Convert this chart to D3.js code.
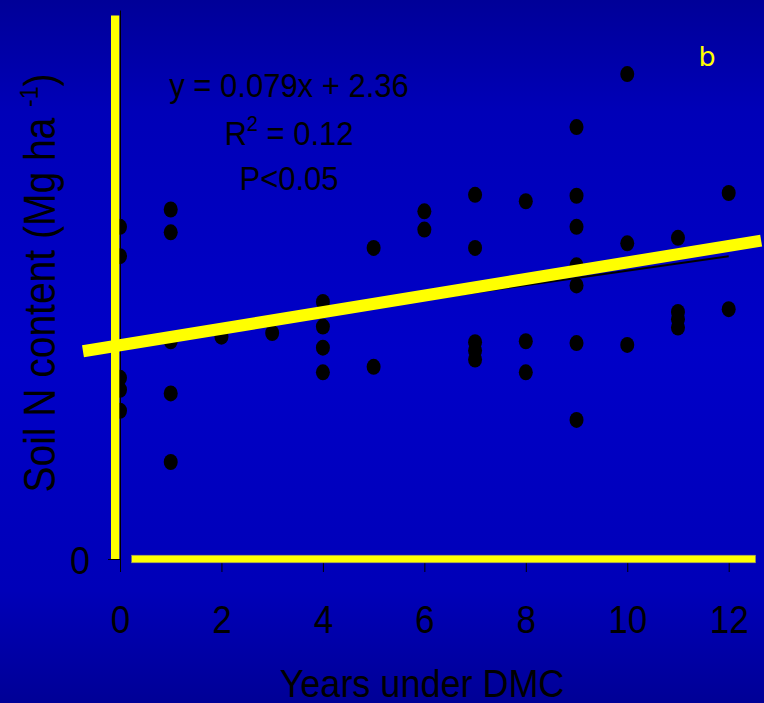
<!DOCTYPE html>
<html>
<head>
<meta charset="utf-8">
<script src="https://cdn.jsdelivr.net/npm/d3@7"></script>
<style>
	html, body { margin: 0; padding: 0; background: #0000b8; }
	svg { display: block; }
	text { font-family: "Liberation Sans", Arial, sans-serif; }
</style>
</head>
<body>
<div id="wrapper"></div>
<script>
// years under DMC and soil N values (Mg/ha)
const years = [
	0, 0, 0, 0, 0,
	1, 1, 1, 1, 1,
	2, 3,
	4, 4, 4, 4,
	5, 5,
	6, 6,
	7, 7, 7, 7, 7,
	8, 8, 8,
	9, 9, 9, 9, 9, 9, 9,
	10, 10, 10,
	11, 11, 11, 11,
	12, 12,
];
const soilN = [
	3.63, 3.31, 1.98, 1.85, 1.62,
	3.82, 3.57, 2.38, 1.81, 1.06,
	2.43, 2.47,
	2.81, 2.54, 2.31, 2.04,
	3.40, 2.10,
	3.80, 3.60,
	3.98, 3.40, 2.37, 2.28, 2.18,
	3.91, 2.38, 2.04,
	4.72, 3.97, 3.63, 3.21, 2.99, 2.36, 1.52,
	5.30, 3.45, 2.34,
	3.51, 2.70, 2.62, 2.53,
	4.00, 2.73,
];
const xTicks = [0, 2, 4, 6, 8, 10, 12];
const yTicks = [0];

// fitted trend y = 0.079x + 2.36
const slope = 0.079;
const intercept = 2.36;
const fitLabels = ["y = 0.079x + 2.36", "R", "P<0.05"];

// the yellow highlight line drawn over the trend (end points in data units)
const highlightX = [-0.73, 12.64];
const highlightY = [2.27, 3.48];

const width = 764;
const height = 703;

const svg = d3
	.select("#wrapper")
	.append("svg")
	.attr("width", width)
	.attr("height", height);

// background gradient
const defs = svg.append("defs");
const grad = defs
	.append("linearGradient")
	.attr("id", "bg")
	.attr("x1", 0)
	.attr("y1", 0)
	.attr("x2", 0)
	.attr("y2", 1);
[
	[0, "#000098"],
	[0.16, "#0000b8"],
	[0.5, "#0000c8"],
	[0.84, "#0000b8"],
	[1, "#000096"],
].forEach(([o, c]) => grad.append("stop").attr("offset", o).attr("stop-color", c));
svg.append("rect").attr("width", width).attr("height", height).attr("fill", "url(#bg)");

const xScale = d3.scaleLinear().domain([0, 12]).range([120, 728.7]);
const yScale = d3.scaleLinear().domain([0, 6]).range([559, 10]);

// axes (thin black, mostly hidden under the yellow bars)
const yAxis = svg
	.append("g")
	.attr("transform", `translate(${xScale(0)},0)`)
	.call(
		d3
			.axisLeft(yScale)
			.tickValues(yTicks)
			.tickFormat(d3.format("d"))
			.tickSize(12)
			.tickSizeOuter(0)
	);
yAxis.select(".domain").attr("stroke", "#000").attr("stroke-width", 1);
yAxis.selectAll(".tick line").attr("stroke", "#000");
yAxis
	.selectAll(".tick text")
	.attr("fill", "#000")
	.style("font-size", "36px")
	.attr("x", -30)
	.attr("dy", 0)
	.attr("y", 13.6)
	.attr("transform", "scale(1,1.1)");

const xAxis = svg
	.append("g")
	.attr("transform", `translate(0,${yScale(0)})`)
	.call(
		d3
			.axisBottom(xScale)
			.tickValues(xTicks)
			.tickFormat(d3.format("d"))
			.tickSize(13)
			.tickSizeOuter(0)
	);
xAxis.select(".domain").remove();
xAxis.selectAll(".tick line").attr("stroke", "#000");
xAxis
	.selectAll(".tick text")
	.attr("fill", "#000")
	.style("font-size", "35px")
	.attr("dy", 0)
	.attr("y", 67)
	.attr("transform", "scale(1,1.1)");

// points
svg
	.append("g")
	.selectAll("ellipse")
	.data(years.map((d, i) => ({ x: d, y: soilN[i] })))
	.join("ellipse")
	.attr("cx", (d) => xScale(d.x))
	.attr("cy", (d) => yScale(d.y))
	.attr("rx", 7)
	.attr("ry", 8)
	.attr("fill", "#000");

// black trend line
svg
	.append("line")
	.attr("x1", xScale(0))
	.attr("y1", yScale(intercept))
	.attr("x2", xScale(12))
	.attr("y2", yScale(slope * 12 + intercept))
	.attr("stroke", "#000")
	.attr("stroke-width", 2);

// yellow highlight line
svg
	.append("line")
	.attr("x1", xScale(highlightX[0]))
	.attr("y1", yScale(highlightY[0]))
	.attr("x2", xScale(highlightX[1]))
	.attr("y2", yScale(highlightY[1]))
	.attr("stroke", "#ffff00")
	.attr("stroke-width", 12);

// yellow axis bars
svg
	.append("rect")
	.attr("x", xScale(0) - 9)
	.attr("width", 8.3)
	.attr("y", yScale(5.94))
	.attr("height", yScale(0) - yScale(5.94))
	.attr("fill", "#ffff00");
svg
	.append("rect")
	.attr("x", xScale(0.23))
	.attr("width", xScale(12.53) - xScale(0.23))
	.attr("y", yScale(0) - 3.8)
	.attr("height", 7.6)
	.attr("fill", "#ffff00")
	.attr("stroke", "#8a8a70")
	.attr("stroke-width", 0.6);

// fit annotation
const note = svg.append("g").attr("fill", "#000").style("font-size", "31px");
note
	.append("text")
	.attr("text-anchor", "middle")
	.attr("transform", "translate(289,97) scale(1,1.08)")
	.text(fitLabels[0]);
const r2 = note
	.append("text")
	.attr("text-anchor", "middle")
	.attr("transform", "translate(289,145) scale(1,1.08)");
r2.append("tspan").text(fitLabels[1]);
r2.append("tspan").attr("dy", -13).style("font-size", "20px").text("2");
r2.append("tspan").attr("dy", 13).text(" = 0.12");
note
	.append("text")
	.attr("text-anchor", "middle")
	.attr("transform", "translate(289,190) scale(1,1.08)")
	.text(fitLabels[2]);

// panel letter
svg
	.append("text")
	.attr("x", 707)
	.attr("y", 66)
	.attr("text-anchor", "middle")
	.attr("fill", "#ffff00")
	.style("font-family", "'DejaVu Sans', sans-serif")
	.style("font-size", "27px")
	.text("b");

// axis titles
svg
	.append("text")
	.attr("text-anchor", "middle")
	.attr("fill", "#000")
	.style("font-size", "36px")
	.attr("transform", "translate(422,697) scale(1,1.1)")
	.text("Years under DMC");

const yTitle = svg
	.append("text")
	.attr("text-anchor", "middle")
	.attr("fill", "#000")
	.style("font-size", "39px")
	.attr("transform", "translate(55,283) rotate(-90) scale(1,1.14)");
yTitle.append("tspan").text("Soil N content (Mg ha ");
yTitle.append("tspan").attr("dy", -15).style("font-size", "23px").text("-1");
yTitle.append("tspan").attr("dy", 15).text(")");
</script>
</body>
</html>
